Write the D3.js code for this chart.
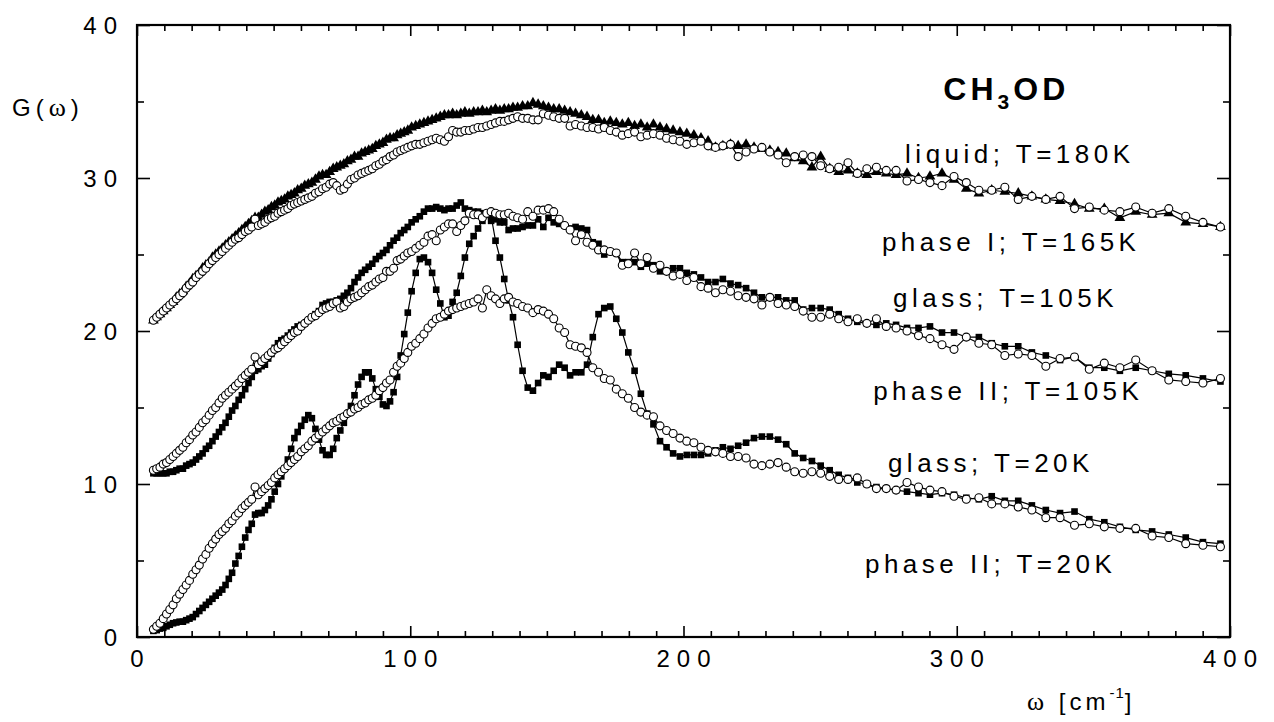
<!DOCTYPE html>
<html>
<head>
<meta charset="utf-8">
<script src="https://cdn.jsdelivr.net/npm/d3@7/dist/d3.min.js"></script>
<style>
  html, body { margin: 0; padding: 0; background: #fff; }
  svg { display: block; }
  text { font-family: "Liberation Sans", Arial, Helvetica, sans-serif; fill: #000; }
  .greek { font-family: "Liberation Serif", "DejaVu Serif", serif; }
</style>
</head>
<body>
<svg id="chart" width="1274" height="722"></svg>
<script>
// Energy transfer grid ω [cm^-1], shared by all spectra
const omega = [
  6.0, 7.2, 8.4, 9.6, 10.8, 12.0, 13.2, 14.4, 15.6, 16.8, 18.0, 19.2, 20.4, 21.6, 22.8, 24.0, 25.2, 26.4, 27.6, 28.8, 30.0, 31.2, 32.4, 33.6, 34.8, 36.0, 37.2, 38.4, 39.6,
  40.8, 42.0, 43.2, 44.4, 45.6, 46.8, 48.0, 49.2, 50.4, 51.6, 52.8, 54.0, 55.2, 56.4, 57.6, 58.8,
  60.1, 61.4, 62.7, 64.0, 65.3, 66.6, 67.9, 69.2, 70.5, 71.8, 73.1, 74.4, 75.7, 77.0, 78.3, 79.6, 80.9, 82.2, 83.5, 84.8, 86.1, 87.4, 88.7, 90.0, 91.3, 92.6, 93.9, 95.2, 96.5, 97.8, 99.1,
  100.5, 102.0, 103.5, 105.0, 106.5, 108.0, 109.5, 111.0, 112.5, 114.0, 115.5, 117.0, 118.5, 120.0, 121.6, 123.2, 124.8, 126.4, 128.0, 129.6, 131.2, 132.8, 134.4, 136.0, 137.6, 139.3,
  141.1, 143.0, 144.9, 146.8, 148.7, 150.6, 152.5, 154.5, 156.5, 158.5, 160.5, 162.6, 164.7, 166.8, 168.9, 171.0, 173.2, 175.4, 177.6, 179.8, 182.1, 184.4, 186.7, 189.0, 191.4, 193.8, 196.2, 198.7,
  201.2, 203.8, 206.4, 209.0, 211.7, 214.4, 217.2, 220.0, 222.9, 225.8, 228.7, 231.6, 234.6, 237.6, 240.7, 243.8, 247.0, 250.2, 253.5, 256.8, 260.2, 263.6, 267.1, 270.6, 274.2, 277.8,
  281.8, 286.0, 290.2, 294.6, 299.0, 303.5, 308.1, 312.8, 317.6, 322.5, 327.5, 332.6, 337.8, 343.1, 348.5, 354.0, 359.7, 365.5, 371.5, 377.6, 383.8, 390.1, 396.5
];

// G(ω) of each sample (curves are offset by 10 per temperature group)
const liquid180 = [
  20.7, 20.9, 21.1, 21.3, 21.5, 21.7, 21.9, 22.2, 22.4, 22.6, 22.9, 23.1, 23.4, 23.6, 23.8, 24.1, 24.3, 24.5, 24.8, 25.0, 25.2, 25.4, 25.6, 25.8, 26.0, 26.2, 26.4, 26.6, 26.8,
  27.0, 27.2, 27.4, 27.4, 27.6, 27.8, 27.9, 28.1, 28.2, 28.4, 28.5, 28.6, 28.8, 28.9, 29.0, 29.2,
  29.3, 29.5, 29.6, 29.7, 29.9, 30.1, 30.2, 30.2, 30.4, 30.6, 30.7, 30.8, 30.9, 31.1, 31.2, 31.4, 31.4, 31.6, 31.7, 31.8, 31.9, 32.1, 32.2, 32.3, 32.5, 32.6, 32.6, 32.8, 32.9, 33.0, 33.1,
  33.3, 33.4, 33.5, 33.6, 33.7, 33.8, 33.9, 34.0, 34.1, 34.1, 34.2, 34.1, 34.2, 34.3, 34.2, 34.3, 34.3, 34.4, 34.3, 34.4, 34.5, 34.4, 34.5, 34.5, 34.6, 34.6,
  34.7, 34.7, 34.9, 34.8, 34.7, 34.6, 34.5, 34.5, 34.4, 34.3, 34.2, 34.1, 34.0, 33.8, 33.8, 33.6, 33.7, 33.6, 33.5, 33.6, 33.4, 33.5, 33.3, 33.5, 33.3, 33.2, 33.1, 33.0,
  32.9, 32.8, 32.6, 32.4, 32.0, 32.1, 32.2, 32.1, 32.2, 32.0, 31.9, 31.8, 31.7, 31.6, 31.3, 31.1, 30.7, 31.4, 30.6, 30.4, 30.5, 30.3, 30.2, 30.4, 30.3, 30.2,
  30.3, 30.0, 30.1, 30.3, 29.9, 29.3, 29.0, 29.2, 29.1, 29.0, 28.8, 28.6, 28.5, 28.3, 28.0, 28.0, 27.4, 27.8, 27.6, 27.7, 27.1, 27.0, 26.8
];
const phaseI165 = [
  20.7, 20.9, 21.1, 21.3, 21.5, 21.7, 21.9, 22.1, 22.3, 22.5, 22.8, 23.0, 23.2, 23.5, 23.7, 23.9, 24.1, 24.4, 24.6, 24.8, 25.0, 25.2, 25.4, 25.6, 25.8, 26.0, 26.1, 26.3, 26.5,
  26.6, 26.8, 27.3, 26.9, 27.0, 27.1, 27.3, 27.4, 27.5, 27.7, 27.8, 27.9, 28.0, 28.2, 28.3, 28.4,
  28.5, 28.6, 28.7, 28.8, 29.0, 29.1, 29.3, 29.4, 29.6, 29.7, 29.5, 29.2, 29.3, 29.6, 29.9, 30.0, 30.2, 30.3, 30.4, 30.5, 30.6, 30.8, 30.9, 31.1, 31.2, 31.4, 31.5, 31.7, 31.8, 31.9, 32.0,
  32.1, 32.2, 32.2, 32.3, 32.4, 32.5, 32.6, 32.5, 32.4, 32.7, 33.1, 33.0, 33.0, 33.1, 33.1, 33.2, 33.3, 33.3, 33.4, 33.5, 33.6, 33.7, 33.7, 33.8, 33.9, 34.0,
  33.9, 33.9, 33.8, 33.8, 34.2, 34.1, 34.0, 33.9, 33.9, 33.4, 33.5, 33.4, 33.3, 33.3, 33.2, 33.3, 33.1, 33.0, 32.8, 32.9, 33.0, 32.7, 32.8, 32.9, 32.8, 32.6, 32.5, 32.4,
  32.2, 32.3, 32.4, 32.1, 32.0, 32.1, 32.2, 31.4, 31.7, 31.9, 32.0, 31.7, 31.5, 31.0, 31.4, 31.5, 31.4, 30.8, 30.6, 30.7, 31.0, 30.3, 30.6, 30.7, 30.5, 30.5,
  29.8, 29.9, 29.7, 29.5, 30.1, 29.7, 29.2, 29.2, 29.4, 28.6, 28.8, 28.6, 28.8, 28.0, 28.1, 27.9, 27.8, 28.1, 27.7, 28.0, 27.5, 27.1, 26.8
];
const glass105 = [
  10.9, 11.0, 11.1, 11.3, 11.4, 11.6, 11.8, 12.0, 12.2, 12.4, 12.7, 12.9, 13.2, 13.4, 13.7, 14.0, 14.2, 14.5, 14.8, 15.0, 15.3, 15.6, 15.8, 16.0, 16.2, 16.4, 16.6, 16.9, 17.1,
  17.3, 17.5, 18.3, 17.8, 18.0, 18.2, 18.4, 18.6, 18.8, 18.9, 19.1, 19.3, 19.5, 19.7, 19.9, 20.0,
  20.3, 20.5, 20.7, 20.9, 21.0, 21.2, 21.4, 21.5, 21.6, 21.8, 21.9, 21.5, 21.6, 21.9, 22.1, 22.2, 22.3, 22.5, 22.7, 22.9, 23.0, 23.2, 23.4, 23.5, 23.9, 23.9, 24.1, 24.6, 24.7, 24.9, 25.1,
  25.2, 25.4, 25.6, 25.8, 26.2, 26.3, 25.9, 26.6, 26.8, 27.0, 27.0, 26.5, 26.9, 27.2, 27.7, 27.6, 27.6, 27.4, 27.7, 27.8, 27.7, 27.6, 27.6, 27.7, 27.5, 27.4,
  27.3, 27.8, 27.5, 27.9, 27.9, 28.0, 27.8, 27.3, 26.9, 26.6, 25.9, 26.3, 25.8, 25.6, 25.3, 25.3, 25.2, 25.1, 24.3, 24.4, 25.1, 24.4, 24.8, 24.1, 24.3, 23.9, 23.6, 23.7,
  23.3, 23.5, 22.9, 22.8, 22.5, 22.7, 22.6, 22.3, 22.2, 22.1, 21.7, 22.2, 21.8, 21.7, 21.6, 21.3, 20.9, 20.9, 21.1, 20.8, 20.6, 20.8, 20.5, 20.8, 20.3, 20.2,
  20.0, 19.7, 19.5, 19.1, 18.8, 19.6, 19.2, 19.1, 18.4, 18.5, 18.4, 17.7, 18.2, 18.3, 17.5, 17.9, 17.6, 18.1, 17.4, 16.8, 16.7, 16.6, 16.9
];
const phaseII105 = [
  10.7, 10.7, 10.7, 10.7, 10.7, 10.8, 10.8, 10.9, 11.0, 11.0, 11.2, 11.3, 11.4, 11.6, 11.8, 12.0, 12.3, 12.5, 12.8, 13.1, 13.4, 13.7, 14.0, 14.4, 14.8, 15.1, 15.5, 15.8, 16.2,
  16.6, 17.0, 17.4, 17.5, 17.7, 17.8, 18.2, 18.5, 18.9, 19.2, 19.4, 19.5, 19.7, 19.9, 20.1, 20.3,
  20.4, 20.5, 20.7, 20.9, 21.1, 21.3, 21.7, 21.8, 21.9, 21.9, 22.0, 22.1, 22.3, 22.5, 22.8, 23.2, 23.5, 23.8, 24.0, 24.2, 24.4, 24.7, 24.9, 25.1, 25.3, 25.6, 25.9, 26.1, 26.4, 26.6, 26.8,
  27.1, 27.3, 27.5, 27.8, 28.0, 28.0, 28.1, 28.0, 27.9, 28.0, 28.0, 28.2, 28.4, 28.0, 27.9, 27.8, 27.8, 27.7, 27.6, 27.2, 27.3, 27.1, 27.1, 26.6, 26.7, 26.7,
  26.8, 26.9, 26.9, 27.3, 26.8, 27.4, 27.1, 27.0, 26.9, 26.7, 26.8, 26.7, 26.6, 25.8, 25.7, 25.0, 25.2, 25.1, 24.5, 24.5, 24.5, 24.2, 24.4, 24.3, 23.9, 23.9, 24.1, 24.1,
  23.8, 23.7, 23.5, 23.2, 23.2, 23.4, 23.1, 23.0, 22.8, 22.5, 22.2, 22.2, 22.2, 22.0, 22.0, 21.4, 21.5, 21.5, 21.4, 21.1, 20.8, 20.6, 20.5, 20.4, 20.5, 20.4,
  20.2, 20.2, 20.3, 19.9, 19.9, 19.6, 19.6, 19.2, 19.0, 19.0, 18.6, 18.4, 18.1, 18.3, 17.6, 17.6, 17.4, 17.6, 17.4, 17.2, 17.1, 16.9, 16.7
];
const glass20 = [
  0.5, 0.7, 0.9, 1.2, 1.5, 1.8, 2.1, 2.5, 2.8, 3.1, 3.4, 3.7, 4.1, 4.4, 4.7, 5.1, 5.4, 5.8, 6.1, 6.4, 6.7, 6.9, 7.1, 7.4, 7.6, 7.9, 8.1, 8.4, 8.6,
  8.8, 9.0, 9.8, 9.3, 9.5, 9.7, 9.9, 10.1, 10.4, 10.6, 10.8, 11.0, 11.2, 11.4, 11.6, 11.8,
  12.1, 12.3, 12.5, 12.8, 13.0, 13.2, 13.4, 13.6, 13.8, 14.0, 14.1, 14.3, 14.4, 14.6, 14.7, 14.9, 15.0, 15.2, 15.3, 15.5, 15.6, 15.8, 16.1, 16.3, 16.6, 16.8, 17.3, 17.7, 17.9, 18.2, 18.6,
  19.0, 19.2, 19.5, 19.8, 20.2, 20.5, 20.8, 20.9, 21.1, 21.3, 21.4, 21.5, 21.6, 21.7, 21.8, 21.9, 22.1, 21.5, 22.7, 22.3, 22.1, 21.8, 22.1, 22.2, 21.9, 21.8,
  21.6, 21.5, 21.2, 21.4, 21.3, 21.1, 20.8, 20.2, 19.9, 19.1, 19.0, 18.9, 18.6, 17.6, 17.3, 16.9, 16.8, 16.2, 15.9, 15.6, 15.0, 14.7, 14.5, 14.4, 13.8, 13.5, 13.3, 13.0,
  12.8, 12.7, 12.4, 12.2, 12.1, 12.0, 11.8, 11.8, 11.7, 11.3, 11.2, 11.3, 11.4, 11.1, 10.8, 10.7, 10.8, 10.7, 10.5, 10.3, 10.3, 10.4, 10.0, 9.7, 9.7, 9.6,
  10.1, 9.8, 9.6, 9.5, 9.2, 9.0, 9.1, 8.7, 8.7, 8.5, 8.3, 7.8, 7.8, 7.3, 7.4, 7.2, 7.1, 7.1, 6.6, 6.5, 6.1, 6.0, 5.9
];
const phaseII20 = [
  0.4, 0.45, 0.55, 0.6, 0.7, 0.8, 0.9, 0.95, 1.0, 1.0, 1.1, 1.2, 1.3, 1.5, 1.7, 1.9, 2.1, 2.3, 2.5, 2.7, 2.9, 3.1, 3.4, 3.8, 4.2, 4.8, 5.3, 5.9, 6.5,
  7.0, 7.4, 8.0, 8.1, 8.1, 8.3, 8.6, 9.0, 9.5, 10.0, 10.5, 11.0, 11.6, 12.3, 13.0, 13.4,
  13.8, 14.2, 14.5, 14.3, 13.6, 12.9, 12.2, 11.9, 11.9, 12.3, 13.0, 13.5, 14.0, 14.6, 15.1, 15.8, 16.5, 17.0, 17.3, 17.3, 16.9, 16.2, 15.7, 15.2, 15.1, 15.4, 16.0, 17.0, 18.4, 19.8, 21.2,
  22.6, 23.8, 24.7, 24.8, 24.5, 23.8, 22.7, 21.8, 20.9, 21.0, 21.9, 22.5, 23.6, 24.8, 25.7, 26.2, 26.7, 27.2, 27.6, 27.5, 25.9, 24.8, 23.4, 22.0, 20.9, 19.1,
  17.4, 16.3, 16.1, 16.6, 17.1, 17.0, 17.4, 17.8, 17.6, 17.1, 17.3, 17.3, 17.8, 19.6, 21.1, 21.5, 21.6, 20.8, 19.9, 18.6, 17.4, 15.9, 14.6, 13.9, 12.8, 12.4, 12.0, 11.8,
  11.9, 11.9, 11.9, 12.0, 12.2, 12.4, 12.3, 12.5, 12.7, 13.0, 13.1, 13.1, 12.9, 12.6, 12.0, 11.7, 11.5, 11.2, 10.9, 10.6, 10.4, 10.1, 10.0, 9.8, 9.7, 9.6,
  9.5, 9.4, 9.3, 9.4, 9.3, 9.1, 9.0, 9.2, 8.9, 8.9, 8.6, 8.3, 8.1, 8.2, 7.7, 7.5, 7.2, 7.0, 6.9, 6.7, 6.5, 6.2, 6.1
];

const xTicks = [0, 100, 200, 300, 400];
const yTicks = [0, 10, 20, 30, 40];
const curveLabels = ["liquid; T=180K", "phase I; T=165K", "glass; T=105K", "phase II; T=105K", "glass; T=20K", "phase II; T=20K"];

// ---------------------------------------------------------------------------
const plot = { left: 137, right: 1230, top: 25, bottom: 637 };
const x = d3.scaleLinear().domain([0, 400]).range([plot.left, plot.right]);
const y = d3.scaleLinear().domain([0, 40]).range([plot.bottom, plot.top]);
const svg = d3.select("#chart");

// inward tick marks on all four sides
function tickLayer(axis, transform, values, size) {
  svg.append("g").attr("transform", transform)
    .call(axis.tickValues(values).tickSize(size).tickFormat(""))
    .call(g => g.select(".domain").remove())
    .call(g => g.selectAll("line").attr("stroke", "#000").attr("stroke-width", 1.6));
}
const xMinor = d3.range(0, 401, 10).filter(v => v % 100 !== 0);
const yMinor = d3.range(0, 41, 5).filter(v => v % 10 !== 0);
tickLayer(d3.axisBottom(x), `translate(0,${plot.bottom})`, xMinor, -6);
tickLayer(d3.axisBottom(x), `translate(0,${plot.bottom})`, xTicks, -11);
tickLayer(d3.axisTop(x), `translate(0,${plot.top})`, xMinor, -6);
tickLayer(d3.axisTop(x), `translate(0,${plot.top})`, xTicks, -11);
tickLayer(d3.axisLeft(y), `translate(${plot.left},0)`, yMinor, -7);
tickLayer(d3.axisLeft(y), `translate(${plot.left},0)`, yTicks, -13);
tickLayer(d3.axisRight(y), `translate(${plot.right},0)`, yMinor, -7);
tickLayer(d3.axisRight(y), `translate(${plot.right},0)`, yTicks, -13);

// frame
svg.append("rect")
  .attr("x", plot.left).attr("y", plot.top)
  .attr("width", plot.right - plot.left).attr("height", plot.bottom - plot.top)
  .attr("fill", "none").attr("stroke", "#000").attr("stroke-width", 2.2);

// tick labels
const tickLS = 7;
svg.append("g").selectAll("text").data(xTicks).join("text")
  .attr("x", d => x(d) + tickLS / 2).attr("y", 667)
  .attr("text-anchor", "middle")
  .style("font-size", "24px").style("letter-spacing", tickLS + "px")
  .text(d => d);
svg.append("g").selectAll("text").data(yTicks).join("text")
  .attr("x", plot.left - 20 + tickLS).attr("y", d => y(d)).attr("dy", "0.36em")
  .attr("text-anchor", "end")
  .style("font-size", "24px").style("letter-spacing", tickLS + "px")
  .text(d => d);

// axis titles
const yTitle = svg.append("text").attr("x", 12).attr("y", 116)
  .style("font-size", "24px").style("letter-spacing", "5px");
yTitle.append("tspan").text("G(");
yTitle.append("tspan").attr("class", "greek").style("font-size", "26px").text("ω");
yTitle.append("tspan").text(")");

const xTitle = svg.append("text").attr("x", 1027).attr("y", 710)
  .style("font-size", "24px").style("letter-spacing", "4px");
xTitle.append("tspan").attr("class", "greek").style("font-size", "26px").text("ω");
xTitle.append("tspan").text(" [cm");
xTitle.append("tspan").attr("dy", -12).style("font-size", "15px").style("letter-spacing", "1px").text("-1");
xTitle.append("tspan").attr("dy", 12).text("]");

// spectra
const seriesList = [
  { values: liquid180, mark: "triangle" },
  { values: phaseI165, mark: "circle" },
  { values: phaseII105, mark: "square" },
  { values: glass105, mark: "circle" },
  { values: phaseII20, mark: "square" },
  { values: glass20, mark: "circle" }
];
const line = d3.line().x(d => x(d[0])).y(d => y(d[1]));

seriesList.forEach(s => {
  s.points = d3.zip(omega, s.values);
  svg.append("path").datum(s.points).attr("d", line)
    .attr("fill", "none").attr("stroke", "#000").attr("stroke-width", 1.2);
});

const triangle = d3.symbol(d3.symbolTriangle, 50)();
const square = d3.symbol(d3.symbolSquare, 44)();
["triangle", "square", "circle"].forEach(kind => {
  seriesList.filter(s => s.mark === kind).forEach(s => {
    const g = svg.append("g");
    if (kind === "circle") {
      g.selectAll("circle").data(s.points).join("circle")
        .attr("cx", d => x(d[0])).attr("cy", d => y(d[1])).attr("r", 4)
        .attr("fill", "#fff").attr("stroke", "#000").attr("stroke-width", 1.1);
    } else {
      g.selectAll("path").data(s.points).join("path")
        .attr("d", kind === "triangle" ? triangle : square)
        .attr("transform", d => `translate(${x(d[0])},${y(d[1])})`)
        .attr("fill", "#000");
    }
  });
});

// curve labels (placed in data coordinates)
const labelAnchors = [[281.1, 31.0], [272.6, 25.2], [276.7, 21.6], [269.4, 15.5], [274.8, 10.8], [266.4, 4.2]];
svg.append("g").selectAll("text").data(curveLabels).join("text")
  .attr("x", (d, i) => x(labelAnchors[i][0]))
  .attr("y", (d, i) => y(labelAnchors[i][1]))
  .style("font-size", "26px").style("letter-spacing", "4.5px")
  .text(d => d);

// compound name with subscript
const title = svg.append("text").attr("x", x(295.1)).attr("y", y(35.1))
  .style("font-size", "32px").style("font-weight", "bold").style("letter-spacing", "4px");
title.append("tspan").text("CH");
title.append("tspan").attr("dy", 9).style("font-size", "21px").text("3");
title.append("tspan").attr("dy", -9).text("OD");
</script>
</body>
</html>
